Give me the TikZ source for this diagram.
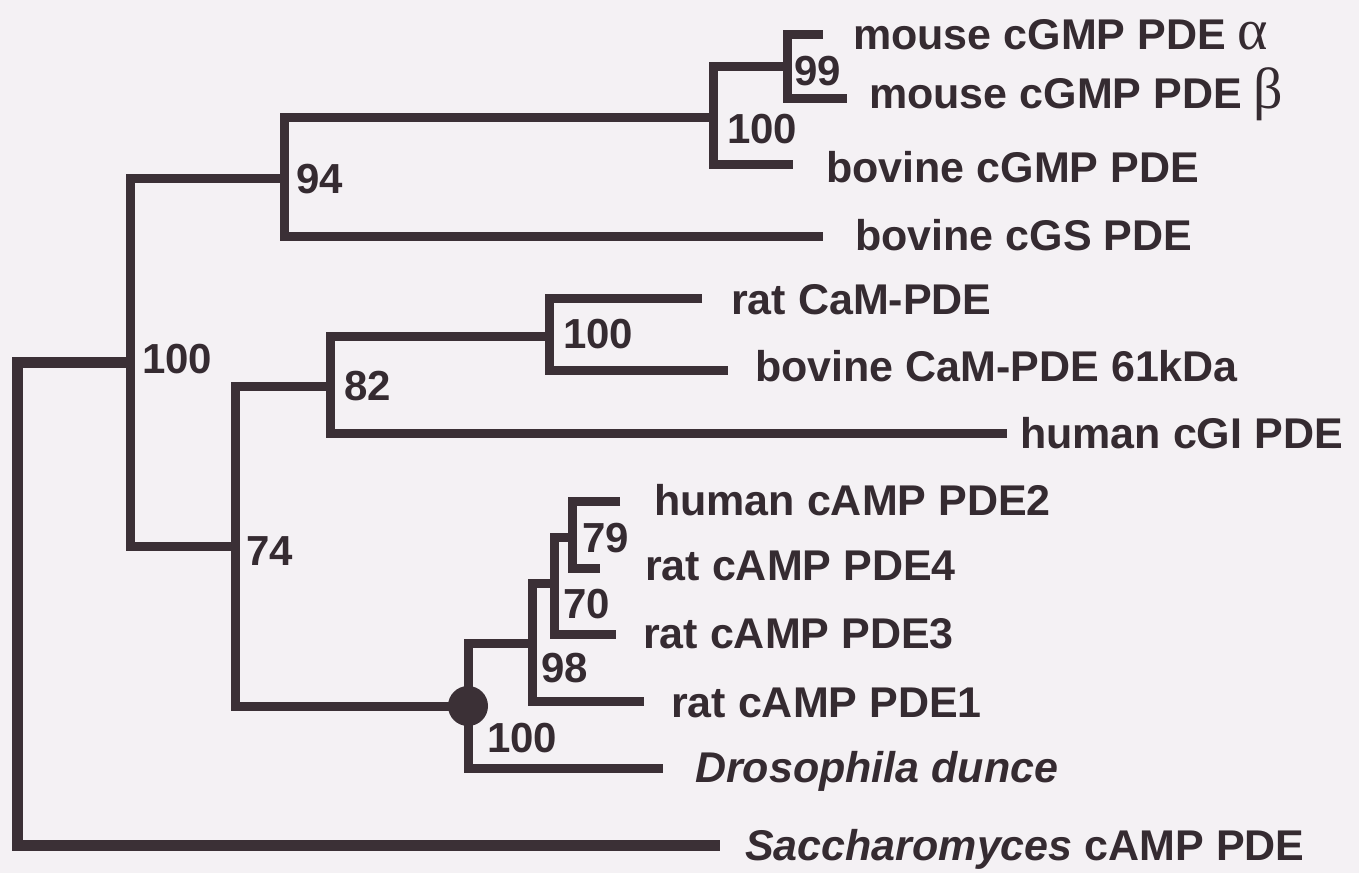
\documentclass[tikz,border=0pt]{standalone}
\usepackage{fontspec}
\setmainfont{Liberation Sans}
\newfontfamily\greekf{Liberation Serif}
\definecolor{ink}{HTML}{3B3036}
\definecolor{txt}{HTML}{352B31}
\definecolor{paper}{HTML}{F4F1F4}
\newcommand{\grk}[1]{{\greekf\mdseries\fontsize{58}{60}\selectfont #1}}
\begin{document}
\begin{tikzpicture}[x=1pt,y=-1pt,
  branch/.style={line width=9pt, draw=ink, line join=miter},
  rootbranch/.style={line width=11pt, draw=ink, line join=miter},
  leaf/.style={anchor=base west, inner sep=0pt, text=txt, font=\fontsize{43}{48}\selectfont\bfseries},
  support/.style={anchor=base west, inner sep=0pt, text=txt, font=\fontsize{42}{48}\selectfont\bfseries},
  dot/.style={circle, fill=ink, minimum size=40pt, inner sep=0pt}]
\fill[paper] (0,0) rectangle (1359,873);
\useasboundingbox (0,0) rectangle (1359,873);

% internal nodes (x of vertical, y of incoming stem)
\coordinate (root) at (17,362);
\coordinate (nA) at (130,362);
\coordinate (n94) at (284,178);
\coordinate (n100m) at (713,117);
\coordinate (n99) at (787,66);
\coordinate (n74) at (235,546);
\coordinate (n82) at (330,386);
\coordinate (nCaM) at (549,336);
\coordinate (nD) at (468,706);
\coordinate (n98) at (532,643);
\coordinate (n70) at (554,583);
\coordinate (n79) at (572,537);

% leaf tips
\coordinate (tAlpha) at (823,34);
\coordinate (tBeta) at (847,98);
\coordinate (tBovG) at (793,164);
\coordinate (tCGS) at (823,236);
\coordinate (tRatCaM) at (702,298);
\coordinate (tBovCaM) at (728,370);
\coordinate (tCGI) at (1007,433);
\coordinate (tPDE2) at (620,501);
\coordinate (tPDE4) at (600,568);
\coordinate (tPDE3) at (616,634);
\coordinate (tPDE1) at (644,701);
\coordinate (tDros) at (663,768);
\coordinate (tSacc) at (720,845);

% branches
\draw[rootbranch] (nA) -- (root) -- (root |- tSacc) -- (tSacc);
\draw[branch] (n94) -| (nA) |- (n74);
\draw[branch] (n100m) -| (n94) |- (tCGS);
\draw[branch] (n99) -| (n100m) |- (tBovG);
\draw[branch] (tAlpha) -| (n99) |- (tBeta);
\draw[branch] (n82) -| (n74) |- (nD);
\draw[branch] (nCaM) -| (n82) |- (tCGI);
\draw[branch] (tRatCaM) -| (nCaM) |- (tBovCaM);
\draw[branch] (n98) -| (nD) |- (tDros);
\draw[branch] (n70) -| (n98) |- (tPDE1);
\draw[branch] (n79) -| (n70) |- (tPDE3);
\draw[branch] (tPDE2) -| (n79) |- (tPDE4);
\node[dot] (dotD) at (nD) {};

% leaf labels
\node[leaf] (lAlpha) at (853,49) {mouse cGMP PDE \grk{α}};
\node[leaf] (lBeta) at (869,108) {mouse cGMP PDE \grk{β}};
\node[leaf] (lBovG) at (826,182) {bovine cGMP PDE};
\node[leaf] (lCGS) at (855,250) {bovine cGS PDE};
\node[leaf] (lRatCaM) at (731,314) {rat CaM-PDE};
\node[leaf] (lBovCaM) at (755,381) {bovine CaM-PDE 61kDa};
\node[leaf] (lCGI) at (1020,448) {human cGI PDE};
\node[leaf] (lPDE2) at (654,515) {human cAMP PDE2};
\node[leaf] (lPDE4) at (645,580) {rat cAMP PDE4};
\node[leaf] (lPDE3) at (643,648) {rat cAMP PDE3};
\node[leaf] (lPDE1) at (671,717) {rat cAMP PDE1};
\node[leaf] (lDros) at (695,782) {\itshape Drosophila dunce};
\node[leaf] (lSacc) at (745,860) {{\itshape Saccharomyces} cAMP PDE};

% support values
\node[support] (s99) at (794,85) {99};
\node[support] (s100m) at (727,143) {100};
\node[support] (s94) at (296,193) {94};
\node[support] (s100A) at (142,373) {100};
\node[support] (s100C) at (563,348) {100};
\node[support] (s82) at (344,400) {82};
\node[support] (s74) at (246,565) {74};
\node[support] (s79) at (582,552) {79};
\node[support] (s70) at (563,618) {70};
\node[support] (s98) at (541,682) {98};
\node[support] (s100D) at (487,752) {100};
\end{tikzpicture}
\end{document}
